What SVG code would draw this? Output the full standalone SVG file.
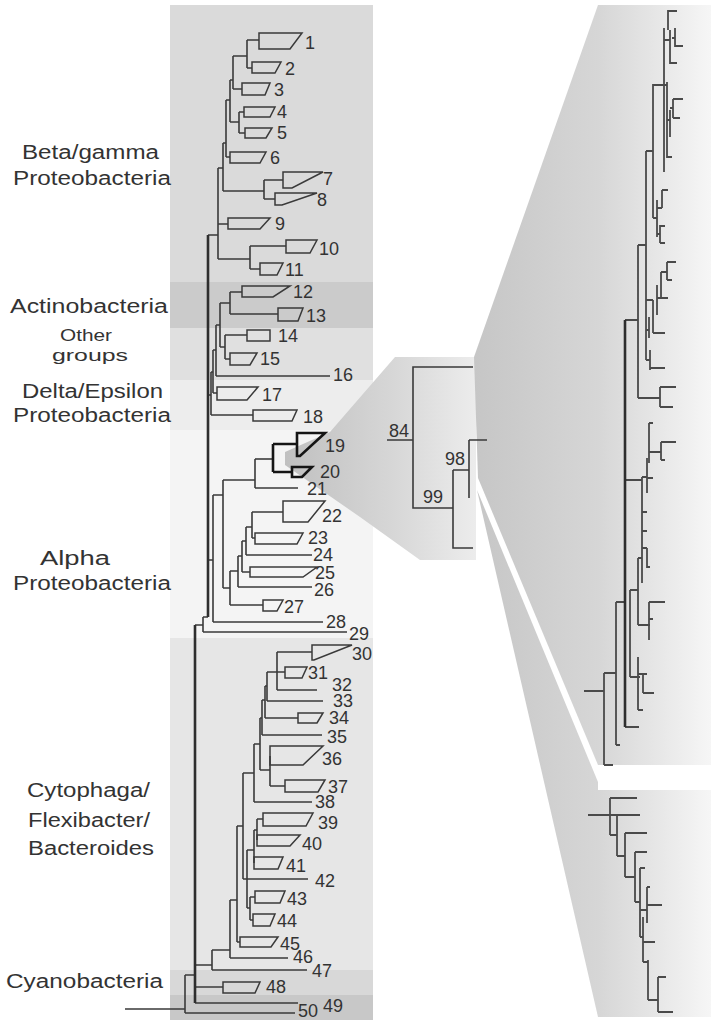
<svg xmlns="http://www.w3.org/2000/svg" width="711" height="1020" viewBox="0 0 711 1020">
<style>
.br{fill:none;stroke:#3a3a3a;stroke-width:1.6}
.bb{fill:none;stroke:#2e2e2e;stroke-width:2.6}
.bold{fill:none;stroke:#151515;stroke-width:2.6}
.cl{fill:none;stroke:#3a3a3a;stroke-width:1.5;stroke-linejoin:miter}
.clb{fill:none;stroke:#151515;stroke-width:2.6}
.rb{fill:none;stroke:#4a4a4a;stroke-width:1.8}
.num{font-family:"Liberation Sans",Arial,sans-serif;font-size:18px;fill:#333}
.lab{font-family:"Liberation Sans",Arial,sans-serif;font-size:20px;fill:#333}
</style>
<defs>
<linearGradient id="gw1" x1="285" y1="0" x2="476" y2="0" gradientUnits="userSpaceOnUse">
<stop offset="0" stop-color="#c0c0c0"/><stop offset="0.55" stop-color="#d6d6d6"/><stop offset="1" stop-color="#ececec"/>
</linearGradient>
<linearGradient id="gw2" x1="474" y1="0" x2="598" y2="0" gradientUnits="userSpaceOnUse">
<stop offset="0" stop-color="#c6c6c6"/><stop offset="1" stop-color="#d6d6d6"/>
</linearGradient>
<linearGradient id="gp" x1="598" y1="0" x2="711" y2="0" gradientUnits="userSpaceOnUse">
<stop offset="0" stop-color="#d6d6d6"/><stop offset="1" stop-color="#f6f6f6"/>
</linearGradient>
</defs>
<rect width="711" height="1020" fill="#ffffff"/>
<g id="panels">
<rect x="170" y="5" width="203" height="277" fill="#dadada"/>
<rect x="170" y="282" width="203" height="46" fill="#cbcbcb"/>
<rect x="170" y="328" width="203" height="52" fill="#e0e0e0"/>
<rect x="170" y="380" width="203" height="50" fill="#ededed"/>
<rect x="170" y="430" width="203" height="208" fill="#f4f4f4"/>
<rect x="170" y="638" width="203" height="332" fill="#e6e6e6"/>
<rect x="170" y="970" width="203" height="25" fill="#d8d8d8"/>
<rect x="170" y="995" width="203" height="25" fill="#c8c8c8"/>
<polygon points="285,452 330,432 395,357 476,357 476,560 420,560 360,517 285,465" fill="url(#gw1)"/>
<polygon points="474,357 598,5 598,765 478,478" fill="url(#gw2)"/>
<polygon points="477,490 598,782 598,1017" fill="url(#gw2)"/>
<rect x="598" y="5" width="113" height="760" fill="url(#gp)"/>
<rect x="598" y="790" width="113" height="227" fill="url(#gp)"/>
</g>
<g id="group-labels">
<text class="lab" x="22" y="159" textLength="137" lengthAdjust="spacingAndGlyphs">Beta/gamma</text>
<text class="lab" x="13" y="185" textLength="158" lengthAdjust="spacingAndGlyphs">Proteobacteria</text>
<text class="lab" x="10" y="313" textLength="158" lengthAdjust="spacingAndGlyphs">Actinobacteria</text>
<text class="lab" x="60" y="341" textLength="52" lengthAdjust="spacingAndGlyphs" style="font-size:17px">Other</text>
<text class="lab" x="52" y="361" textLength="76" lengthAdjust="spacingAndGlyphs" style="font-size:17px">groups</text>
<text class="lab" x="22" y="398" textLength="141" lengthAdjust="spacingAndGlyphs">Delta/Epsilon</text>
<text class="lab" x="13" y="422" textLength="158" lengthAdjust="spacingAndGlyphs">Proteobacteria</text>
<text class="lab" x="40" y="565" textLength="70" lengthAdjust="spacingAndGlyphs">Alpha</text>
<text class="lab" x="13" y="590" textLength="158" lengthAdjust="spacingAndGlyphs">Proteobacteria</text>
<text class="lab" x="27" y="797" textLength="123" lengthAdjust="spacingAndGlyphs">Cytophaga/</text>
<text class="lab" x="28" y="827" textLength="122" lengthAdjust="spacingAndGlyphs">Flexibacter/</text>
<text class="lab" x="28" y="855" textLength="126" lengthAdjust="spacingAndGlyphs">Bacteroides</text>
<text class="lab" x="6" y="988" textLength="157" lengthAdjust="spacingAndGlyphs">Cyanobacteria</text>
</g>
<g id="connectors">
<path class="br" d="M247 40V68M247 40H259M247 68H252M233 56V89M233 56H247M233 89H242M239 112V133M239 112H244M239 133H245M230 80V122M230 80H233M230 122H239M226 100V157M226 100H230M226 157H230M264 180V199M264 180H283M264 199H275M223 143V191M223 143H226M223 191H264M250 246V269M250 246H286M250 269H260M218 168V259M218 168H223M218 224H228M218 259H250M208 235H218"/>
<path class="br" d="M230 292V314M230 292H242M230 314H278M225 335V359M225 335H247M225 359H230M220 303V347M220 303H230M220 347H225M216 325V376M216 325H220M216 376H330M213 350V393M213 350H216M213 393H217M211 372V415M211 372H213M211 415H253M208 395H211"/>
<path class="br" d="M255 459V488M255 488H298M252 512V538M252 512H283M252 538H255M246 527V555M246 527H252M246 555H312M242 541V572M242 541H246M242 572H250M238 556V587M238 556H242M238 587H312M230 571V605M230 571H238M230 605H263M223 480V588M223 480H255M223 588H230M213 495V622M213 495H223M213 622H323M208 560H213M203 617V632M203 617H208M203 632H347M195 625H203"/>
<path class="br" d="M255 459H273"/>
<path class="bold" d="M273 444V472M273 444H297M273 472H292"/>
<path class="br" d="M277 652V690M277 652H312M277 672H285M277 690H317M267 672V701M267 672H277M267 701H323M265 686V718M265 686H267M265 718H298M262 700V735M262 700H265M262 735H322M270 756V786M270 786H285M260 718V770M260 718H262M260 770H270M254 744V802M254 744H260M254 802H312M257 819V840M257 819H263M254 830V863M254 830H257M250 897V920M250 897H255M250 920H253M247 850V908M247 850H254M247 879H308M247 908H250M243 773V879M243 773H254M243 879H247M237 826V942M237 826H243M237 942H240M230 900V958M230 900H237M230 958H288M212 950V970M212 950H230M212 970H307M195 965H212M195 987H223M195 1003H298M185 975V1013M185 975H195M185 1013H295M125 1009H185"/>
<path class="bb" d="M208 235V617M195 625V1003"/>
<path class="br" d="M387 440H413M473 367H413V508H453M453 470V548H473M453 470H469M469 440V498M469 440H487"/>
<path class="rb" d="M677 11H668V30M664 28V172M664 40H670M670 30V63H677M672 38H675M675 28V47M675 46H683M653 218V85H667M667 82V157H672M667 120H670M670 110V137M670 108H673M673 99V118M673 99H683M673 118H680M653 218H657M657 200V237M662 190V208M662 190H668M657 208H662M660 225V243M660 226H665M660 243H665M657 234H660M646 151V360M646 151H653M638 245V398M638 245H646M638 398H660M660 387V407M660 387H676M660 407H673M625 320H638M667 262V280M667 262H676M667 280H672M661 272V297M661 272H667M657 285V315M657 298H668M653 300V333M653 333H665M649 317V338M650 350V370M650 368H665M646 300H653M646 330H649M646 360H650M649 423V463M649 423H653M661 442V460M661 442H676M661 460H665M649 452H661M647 458V493M647 478H653M642 477V583M642 477H647M625 480H642M642 512H647M642 531H647M642 548H647M647 548V567H650M638 558V625M638 558H642M638 625H650M630 590V677M630 590H638M630 677H640M649 602V640M649 602H665M649 619H653M638 657V710M638 674H647M643 673V693M643 693H654M638 710H643M625 727H639M616 602V745M616 602H625M616 745H620M604 673V765M604 673H616M604 765H613M584 691H604"/>
<path class="bb" d="M625 320V727"/>
<path class="rb" d="M588 815H640M610 798V835M610 798H637M610 835H617M617 815V856M617 856H625M625 833V877M625 833H647M625 877H635M635 852V902M635 852H647M635 902H640M640 868V937M640 868H645M647 887V923M647 887H650M647 905H662M640 910H647M643 917V962M643 942H655M640 937H643M648 960V1000M643 962H648M658 977V1012M658 977H666M658 1012H673M648 1000H658"/>
</g>
<g id="bootstrap">
<text class="num" x="389" y="437">84</text>
<text class="num" x="445" y="465">98</text>
<text class="num" x="423" y="503">99</text>
</g>
<g id="n1"><polygon class="cl" points="259,33 302,33 290,49 259,49"/><text class="num" x="305" y="49">1</text></g>
<g id="n2"><polygon class="cl" points="252,62 281,62 275,73 252,73"/><text class="num" x="285" y="75">2</text></g>
<g id="n3"><polygon class="cl" points="242,83 270,83 265,95 242,95"/><text class="num" x="274" y="96">3</text></g>
<g id="n4"><polygon class="cl" points="244,107 275,107 270,117 244,117"/><text class="num" x="277" y="118">4</text></g>
<g id="n5"><polygon class="cl" points="245,128 272,128 266,138 245,138"/><text class="num" x="277" y="139">5</text></g>
<g id="n6"><polygon class="cl" points="230,152 266,152 260,163 230,163"/><text class="num" x="270" y="164">6</text></g>
<g id="n7"><polygon class="cl" points="283,172 323,172 292,188 283,188"/><text class="num" x="323" y="185">7</text></g>
<g id="n8"><polygon class="cl" points="275,193 317,193 282,205 275,205"/><text class="num" x="317" y="206">8</text></g>
<g id="n9"><polygon class="cl" points="228,218 270,218 260,229 228,229"/><text class="num" x="275" y="230">9</text></g>
<g id="n10"><polygon class="cl" points="286,240 317,240 310,253 286,253"/><text class="num" x="319" y="255">10</text></g>
<g id="n11"><polygon class="cl" points="260,263 283,263 277,275 260,275"/><text class="num" x="285" y="276">11</text></g>
<g id="n12"><polygon class="cl" points="242,286 290,286 273,297 242,297"/><text class="num" x="293" y="298">12</text></g>
<g id="n13"><polygon class="cl" points="278,308 303,308 298,321 278,321"/><text class="num" x="306" y="322">13</text></g>
<g id="n14"><polygon class="cl" points="247,330 270,330 270,341 247,341"/><text class="num" x="278" y="342">14</text></g>
<g id="n15"><polygon class="cl" points="230,353 257,353 250,365 230,365"/><text class="num" x="260" y="365">15</text></g>
<g id="n16"><text class="num" x="333" y="381">16</text></g>
<g id="n17"><polygon class="cl" points="217,387 258,387 247,400 217,400"/><text class="num" x="262" y="401">17</text></g>
<g id="n18"><polygon class="cl" points="253,410 297,410 292,421 253,421"/><text class="num" x="303" y="423">18</text></g>
<g id="n19"><polygon class="clb" points="297,433 325,433 300,456 297,456"/><text class="num" x="325" y="452">19</text></g>
<g id="n20"><polygon class="clb" points="292,467 312,467 302,477 292,477"/><text class="num" x="320" y="478">20</text></g>
<g id="n21"><text class="num" x="307" y="495">21</text></g>
<g id="n22"><polygon class="cl" points="283,501 325,501 308,522 283,522"/><text class="num" x="322" y="522">22</text></g>
<g id="n23"><polygon class="cl" points="255,533 303,533 297,544 255,544"/><text class="num" x="308" y="544">23</text></g>
<g id="n24"><text class="num" x="313" y="561">24</text></g>
<g id="n25"><polygon class="cl" points="250,567 317,567 303,577 250,577"/><text class="num" x="315" y="579">25</text></g>
<g id="n26"><text class="num" x="314" y="596">26</text></g>
<g id="n27"><polygon class="cl" points="263,600 283,600 277,611 263,611"/><text class="num" x="284" y="613">27</text></g>
<g id="n28"><text class="num" x="326" y="628">28</text></g>
<g id="n29"><text class="num" x="349" y="640">29</text></g>
<g id="n30"><polygon class="cl" points="312,645 352,645 314,660 312,660"/><text class="num" x="352" y="660">30</text></g>
<g id="n31"><polygon class="cl" points="285,667 307,667 302,678 285,678"/><text class="num" x="308" y="679">31</text></g>
<g id="n32"><text class="num" x="332" y="691">32</text></g>
<g id="n33"><text class="num" x="333" y="707">33</text></g>
<g id="n34"><polygon class="cl" points="298,713 323,713 317,723 298,723"/><text class="num" x="329" y="724">34</text></g>
<g id="n35"><text class="num" x="327" y="743">35</text></g>
<g id="n36"><polygon class="cl" points="270,746 323,746 303,765 270,765"/><text class="num" x="322" y="765">36</text></g>
<g id="n37"><polygon class="cl" points="285,780 325,780 318,792 285,792"/><text class="num" x="328" y="793">37</text></g>
<g id="n38"><text class="num" x="315" y="808">38</text></g>
<g id="n39"><polygon class="cl" points="263,813 313,813 306,826 263,826"/><text class="num" x="318" y="829">39</text></g>
<g id="n40"><polygon class="cl" points="257,835 300,835 290,846 257,846"/><text class="num" x="302" y="850">40</text></g>
<g id="n41"><polygon class="cl" points="254,857 283,857 278,869 254,869"/><text class="num" x="286" y="872">41</text></g>
<g id="n42"><text class="num" x="315" y="887">42</text></g>
<g id="n43"><polygon class="cl" points="255,891 285,891 280,903 255,903"/><text class="num" x="287" y="905">43</text></g>
<g id="n44"><polygon class="cl" points="253,914 275,914 270,926 253,926"/><text class="num" x="277" y="927">44</text></g>
<g id="n45"><polygon class="cl" points="240,937 278,937 271,947 240,947"/><text class="num" x="280" y="950">45</text></g>
<g id="n46"><text class="num" x="293" y="963">46</text></g>
<g id="n47"><text class="num" x="312" y="977">47</text></g>
<g id="n48"><polygon class="cl" points="223,982 260,982 255,993 223,993"/><text class="num" x="266" y="993">48</text></g>
<g id="n49"><text class="num" x="323" y="1012">49</text></g>
<g id="n50"><text class="num" x="298" y="1017">50</text></g>
</svg>
